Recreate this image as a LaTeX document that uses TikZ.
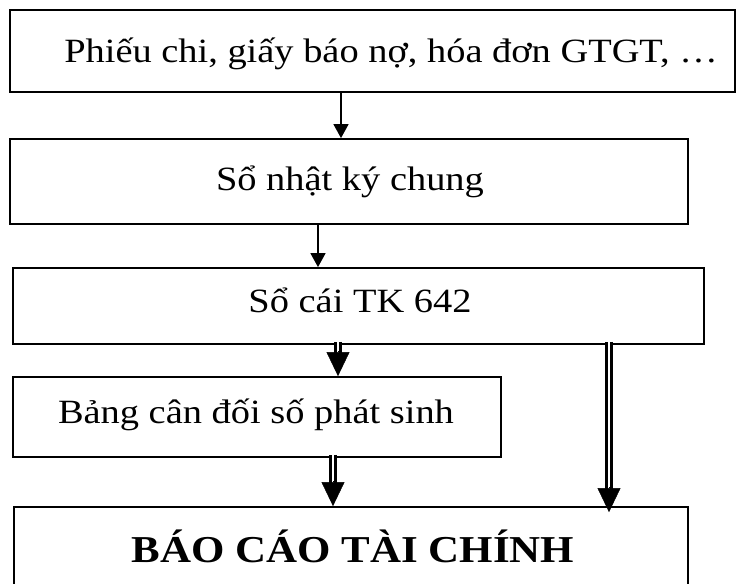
\documentclass[tikz,border=0pt]{standalone}
\usepackage{fontspec}
\setmainfont{Liberation Serif}[FakeStretch=1.13]
\usetikzlibrary{arrows.meta,calc}
\tikzset{
  box/.style={draw=black, line width=1.8pt, rectangle, inner sep=0pt},
  thinbox/.style={box, line width=1.3pt},
  txt/.style={anchor=base, inner sep=0pt, font=\fontsize{34}{40}\selectfont},
  btxt/.style={anchor=base, inner sep=0pt, font=\fontsize{38}{44}\selectfont\bfseries},
  arr/.style={line width=1.5pt, -{Triangle[width=15pt,length=14pt]}},
  dbl/.style={line width=2.4pt, double=white, double distance=2.8pt},
  dhead/.style={line width=0.4pt, -{Triangle[width=23pt,length=24pt]}}
}
\begin{document}
\begin{tikzpicture}[x=1pt,y=1pt]
\clip (0,0) rectangle (738,-583);
\fill[white] (0,0) rectangle (738,-583);
% boxes
\node[thinbox, minimum width=725pt, minimum height=82pt] (b1) at (372.5,-51) {};
\node[box, minimum width=678pt, minimum height=85pt] (b2) at (349,-181.5) {};
\node[box, minimum width=691pt, minimum height=76pt] (b3) at (358.5,-306) {};
\node[box, minimum width=488pt, minimum height=80pt] (b4) at (257,-417) {};
\node[box, minimum width=674pt, minimum height=100pt] (b5) at (351,-557) {};
% texts
\node[txt] (t1) at (391,-63) {Phiếu chi, giấy báo nợ, hóa đơn GTGT, …};
\node[txt] (t2) at (350,-190) {Sổ nhật ký chung};
\node[txt] (t3) at (360,-312) {Sổ cái TK 642};
\node[txt] (t4) at (256,-423) {Bảng cân đối số phát sinh};
\node[btxt] (t5) at (353,-562) {BÁO CÁO TÀI CHÍNH};
% x positions of connectors
\coordinate (x1) at (341,0);
\coordinate (x2) at (318,0);
\coordinate (x3) at (338,0);
\coordinate (x4) at (333,0);
\coordinate (x5) at (609,0);
% single arrows
\draw[arr] (b1.south -| x1) -- (b2.north -| x1);
\draw[arr] (b2.south -| x2) -- (b3.north -| x2);
% double arrows
\draw[dbl] ($(b3.south -| x3)+(0,3)$) -- ($(b4.north -| x3)+(0,20)$);
\draw[dhead] ($(b4.north -| x3)+(0,25)$) -- (b4.north -| x3);
\draw[dbl] ($(b4.south -| x4)+(0,3)$) -- ($(b5.north -| x4)+(0,20)$);
\draw[dhead] ($(b5.north -| x4)+(0,25)$) -- (b5.north -| x4);
\draw[dbl] ($(b3.south -| x5)+(0,3)$) -- ($(b5.north -| x5)+(0,14)$);
\draw[dhead] ($(b5.north -| x5)+(0,19)$) -- ($(b5.north -| x5)+(0,-6)$);
\end{tikzpicture}
\end{document}
